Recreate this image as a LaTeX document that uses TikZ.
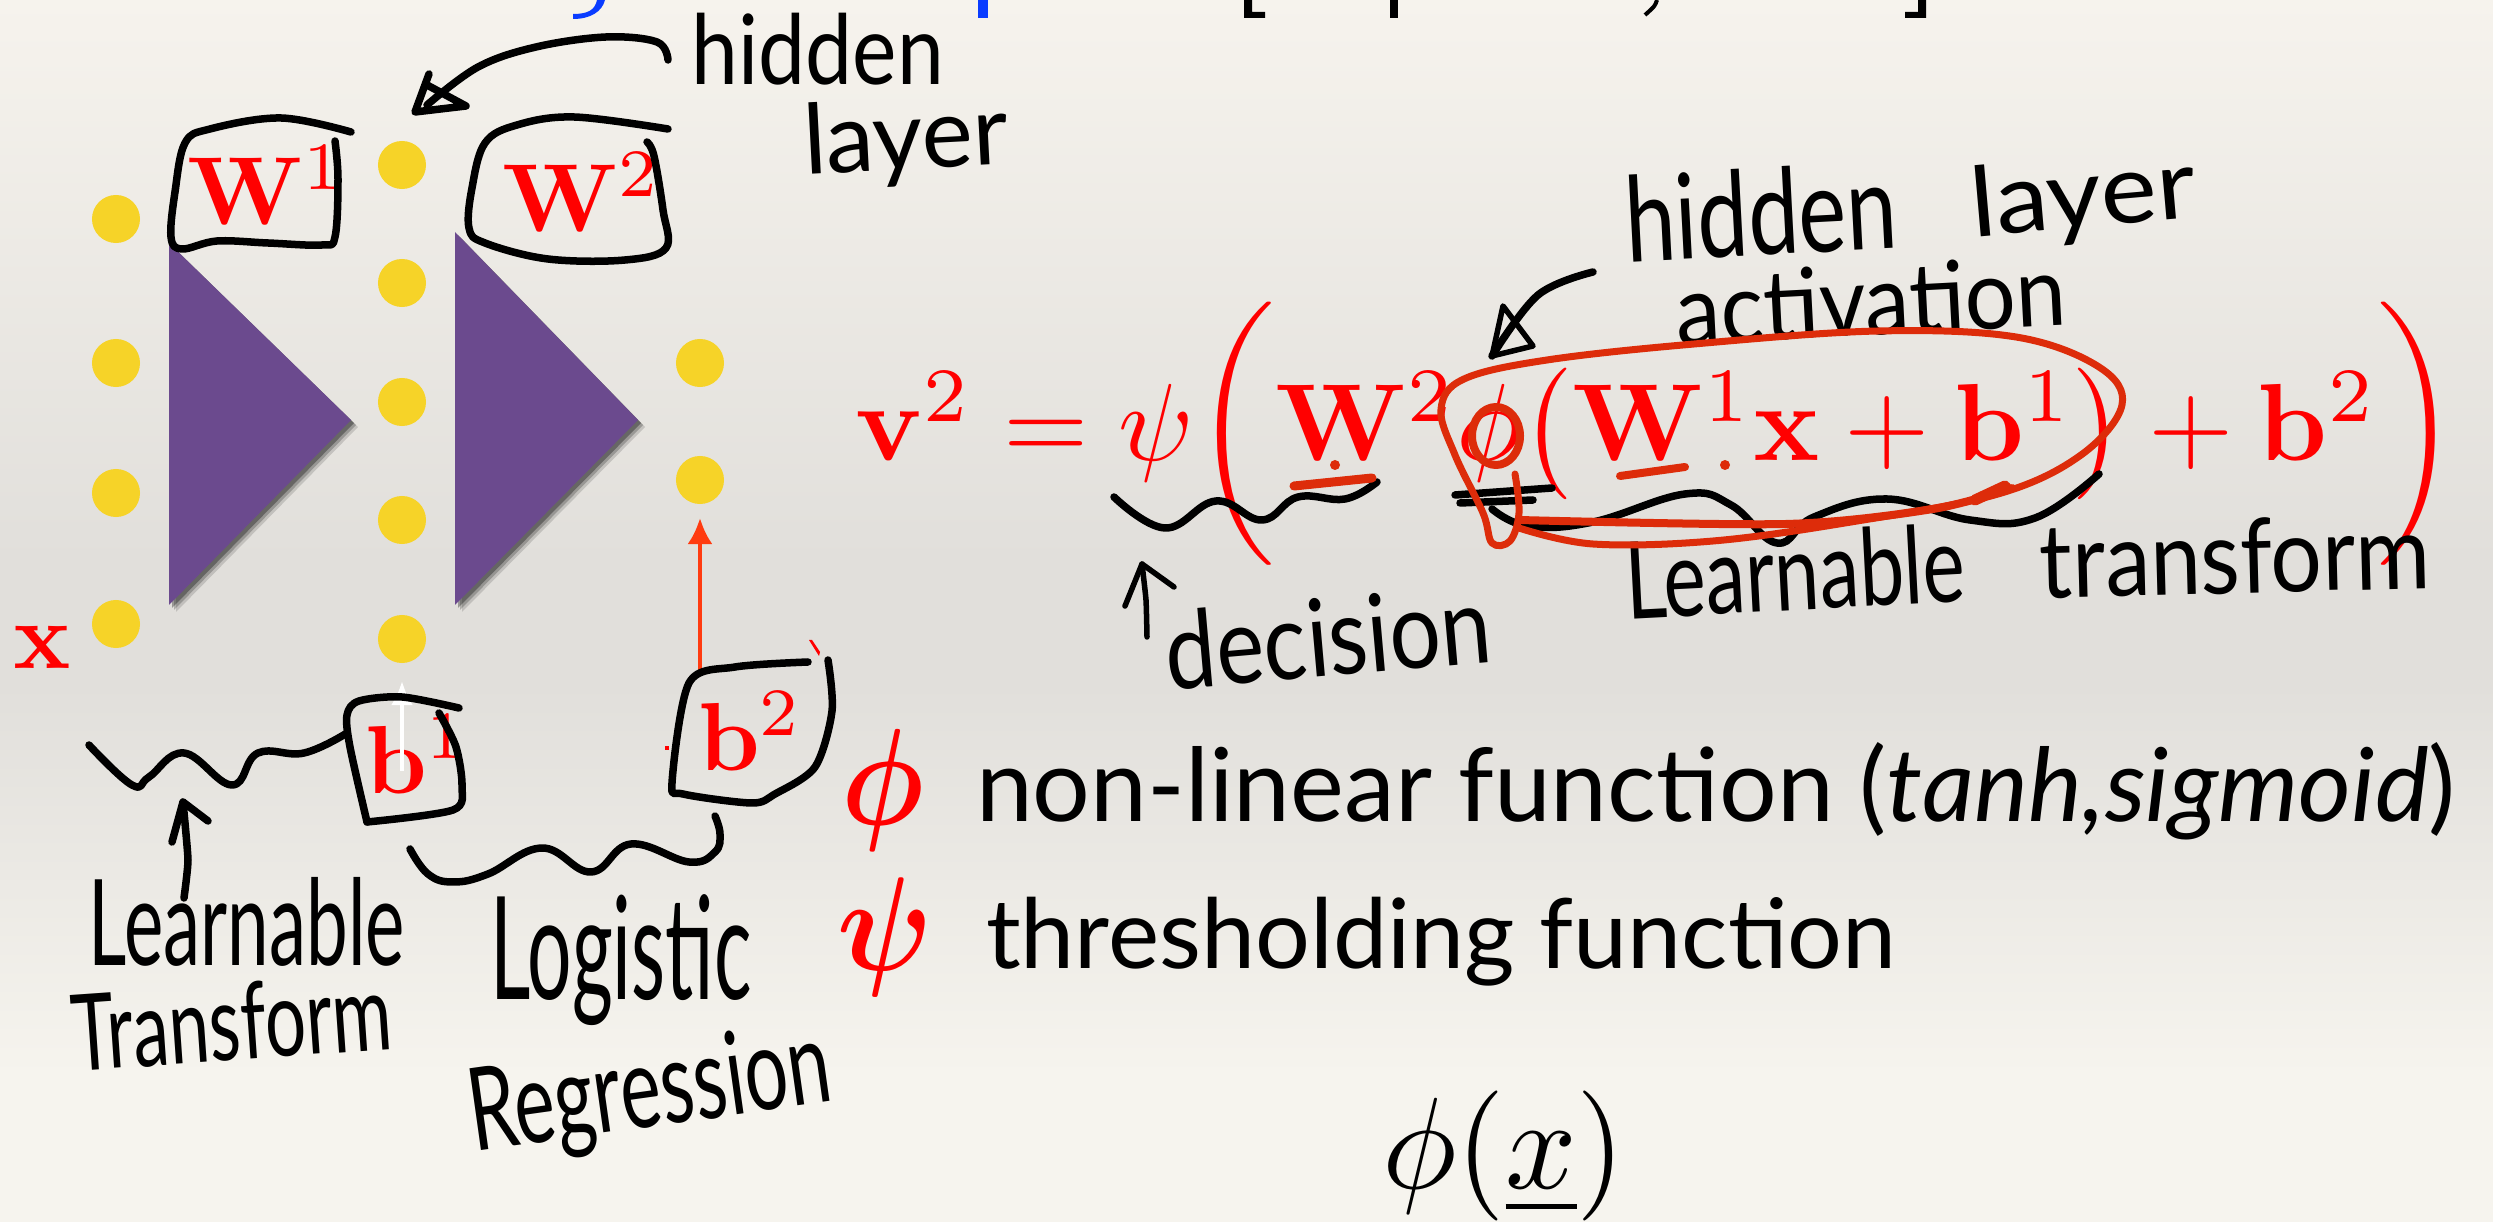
\documentclass[tikz,border=0pt]{standalone}
\usepackage[no-math]{fontspec}
\usepackage{amsmath,amsbsy,graphicx}
\usetikzlibrary{arrows.meta}
\setmainfont{Lato}
\newfontfamily\handfont{Lato}
\definecolor{dotc}{HTML}{F6D328}
\definecolor{tri}{HTML}{6B4A8E}
\definecolor{eqred}{HTML}{FF0000}
\definecolor{inkred}{HTML}{DD2C0A}
\definecolor{arrred}{HTML}{FF3B10}
\definecolor{tblue}{HTML}{0A3CFF}
\definecolor{papertop}{HTML}{F6F3ED}
\definecolor{papermid}{HTML}{E1DFDB}
\definecolor{paperbot}{HTML}{F6F4EE}
\pgfdeclareverticalshading{paper}{100bp}{
 color(0bp)=(paperbot); color(31bp)=(paperbot); color(47bp)=(papermid); color(52bp)=(papermid); color(75bp)=(papertop); color(100bp)=(papertop)}
\tikzset{
 dotn/.style={circle,fill=dotc,inner sep=0pt,minimum size=0.48cm},
 txt/.style={inner sep=0pt,outer sep=0pt},
 ink/.style={draw=black,line width=0.075cm,line cap=round,line join=round},
 rink/.style={draw=inkred,line width=0.07cm,line cap=round,line join=round},
 hand/.style={inner sep=0pt,outer sep=0pt,text=black},
 redm/.style={inner sep=0pt,outer sep=0pt,text=eqred,anchor=base west},
}
\begin{document}
\begin{tikzpicture}[x=0.01cm,y=-0.01cm]
\useasboundingbox (0,0) rectangle (2493,1222);
\shade[shading=paper] (0,0) rectangle (2493,1222);

% top fragments
\fill[tblue] (597,0) .. controls (595,10) and (588,14) .. (573,14) -- (573,19) .. controls (590,19) and (602,12) .. (605,0) -- cycle;
\fill[tblue] (978,0) rectangle (988,18);
\fill[black] (1244,0) -- (1252,0) -- (1252,12) -- (1265,12) -- (1265,18) -- (1244,18) -- cycle;
\fill[black] (1390,0) rectangle (1398,18);
\draw[black,line width=0.04cm] (1657,0) .. controls (1655,6) .. (1645,15);
\fill[black] (1918,0) -- (1926,0) -- (1926,18) -- (1905,18) -- (1905,12) -- (1918,12) -- cycle;

% triangles
\foreach \o/\a in {7/0.14,5/0.22,3/0.32}{
 \fill[black,opacity=\a,xshift=\o*0.01cm,yshift=-\o*0.01cm] (169,243) -- (351,420) -- (169,605) -- cycle;
 \fill[black,opacity=\a,xshift=\o*0.01cm,yshift=-\o*0.01cm] (455,232) -- (638,420) -- (455,605) -- cycle;
}
\fill[tri] (169,243) -- (351,420) -- (169,605) -- cycle;
\fill[tri] (455,232) -- (638,420) -- (455,605) -- cycle;

% dots
\node[dotn] (l1) at (116,219) {};
\node[dotn] (l2) at (116,363) {};
\node[dotn] (l3) at (116,493) {};
\node[dotn] (l4) at (116,624) {};
\node[dotn] (m1) at (402,165) {};
\node[dotn] (m2) at (402,283) {};
\node[dotn] (m3) at (402,402) {};
\node[dotn] (m4) at (402,520) {};
\node[dotn] (m5) at (402,639) {};
\node[dotn] (r1) at (700,363) {};
\node[dotn] (r2) at (700,480) {};

% red symbols
\node[redm] (x) at (14,669) {\scalebox{2.7}{$\mathbf{x}$}};
\node[redm] (w1) at (187,225) {\scalebox{2.75}{$\mathbf{W}^1$}};
\node[redm] (w2) at (502,232) {\scalebox{2.75}{$\mathbf{W}^2$}};
\node[redm] (b1) at (365,794) {\scalebox{2.75}{$\mathbf{b}^1$}};
\node[redm] (b2) at (698,771) {\scalebox{2.75}{$\mathbf{b}^2$}};

% arrows
\coordinate (ra) at (700,672);
\coordinate (rb) at (700,518);
\draw[arrred,line width=0.045cm,-{Latex[length=0.26cm,width=0.25cm]}] (ra) -- (rb);
\coordinate (wa) at (402,771);
\coordinate (wb) at (402,681);
\draw[white,line width=0.045cm,-{Latex[length=0.24cm,width=0.22cm]}] (wa) -- (wb);

% equation
\node[redm] (eq) at (855,461) {\scalebox{3.12}{$\mathbf{v}^2=\psi\biggl(\mathbf{W}^2\phi\bigl(\mathbf{W}^1\mathbf{x}+\mathbf{b}^1\bigr)+\mathbf{b}^2\biggr)$}};

% legend
\node[txt,text=eqred] (phil) at (883,790) {\scalebox{3.3}[3.9]{$\boldsymbol{\phi}$}};
\node[txt,text=eqred] (psil) at (885,937) {\scalebox{3.4}[3.8]{$\boldsymbol{\psi}$}};
\node[txt,anchor=base west] (lt1) at (976,822) {\resizebox{14.79cm}{!}{non-linear function (\textit{tanh,sigmoid})}};
\node[txt,anchor=base west] (lt2) at (986,969) {\resizebox{9.10cm}{!}{thresholding function}};

% handwriting text
\node[hand] (h1) at (818,49) {\resizebox*{2.52cm}{0.72cm}{\handfont hidden}};
\node[hand,rotate=3] (h2) at (906,142) {\resizebox*{2.05cm}{0.88cm}{\handfont layer}};
\node[hand,rotate=3] (h3) at (1761,212) {\resizebox*{2.72cm}{0.88cm}{\handfont hidden}};
\node[hand,rotate=5] (h4) at (2083,200) {\resizebox*{2.25cm}{0.88cm}{\handfont layer}};
\node[hand,rotate=3] (h5) at (1871,300) {\resizebox*{3.9cm}{0.72cm}{\handfont activation}};
\node[hand,rotate=5] (h6) at (1328,637) {\resizebox*{3.27cm}{0.8cm}{\handfont decision}};
\node[hand,rotate=3] (h7) at (1795,571) {\resizebox*{3.4cm}{0.8cm}{\handfont Learnable}};
\node[hand,rotate=1.5] (h8) at (2235,556) {\resizebox*{3.9cm}{0.76cm}{\handfont transform}};
\node[hand] (h9) at (247,922) {\resizebox*{3.16cm}{0.89cm}{\handfont Learnable}};
\node[hand,rotate=4] (h10) at (232,1022) {\resizebox*{3.2cm}{0.78cm}{\handfont Transform}};
\node[hand] (h11) at (621,960) {\resizebox*{2.61cm}{1.31cm}{\handfont Logistic}};
\node[hand,rotate=8] (h12) at (650,1095) {\resizebox*{3.64cm}{1.05cm}{\handfont Regression}};
\node[hand] (h13) at (1504,1156) {\resizebox*{2.43cm}{1.3cm}{$\phi(\underline{x})$}};

% hand strokes: boxes
\draw[ink] plot[smooth,tension=0.6] coordinates {(351,132) (281,118) (210,129) (185,143) (175,192) (171,237) (182,249) (217,241) (268,243) (322,245) (335,237) (338,179) (335,141)};
\draw[ink] plot[smooth,tension=0.6] coordinates {(668,129) (574,117) (517,125) (485,143) (472,188) (469,228) (485,243) (548,259) (625,260) (666,248) (663,210) (654,156) (647,142)};
\draw[ink] plot[smooth,tension=0.5] coordinates {(459,708) (402,697) (359,701) (347,715) (350,747) (367,822)};
\draw[ink] plot[smooth,tension=0.5] coordinates {(367,822) (453,810) (462,786) (456,747) (439,713)};
\draw[ink] plot[smooth,tension=0.5] coordinates {(808,662) (735,667) (689,683) (672,783) (683,794) (752,803) (775,794) (815,767) (832,711) (828,660)};
\fill[eqred] (809,640) -- (812,640) -- (820,652) -- (819,656) -- cycle;
\fill[eqred] (665,746) rectangle (669,750);

% hidden-layer arrow
\draw[ink] plot[smooth,tension=0.6] coordinates {(668,60) (657,42) (606,37) (536,47) (478,67) (427,105)};
\draw[ink] (429,74) -- (415,112) -- (466,106) -- (427,85);

% wiggles
\draw[ink] plot[smooth,tension=0.7] coordinates {(89,745) (132,785) (149,777) (184,753) (232,785) (258,753) (304,753) (347,733)};
\draw[ink] plot[smooth,tension=0.3] coordinates {(184,898) (188,860) (183,802)};
\draw[ink] (172,842) -- (183,802) -- (208,821);
\draw[ink] plot[smooth,tension=0.7] coordinates {(410,849) (428,874) (453,882) (488,874) (542,848) (591,872) (631,844) (689,862) (715,852) (720,834) (715,816)};

% equation annotations
\draw[ink] plot[smooth,tension=0.6] coordinates {(1593,272) (1538,295) (1492,356)};
\draw[ink,line width=0.055cm] (1503,306) -- (1492,356) -- (1533,346) -- cycle;
\draw[ink,line width=0.055cm] plot[smooth,tension=0.3] coordinates {(1147,637) (1146,600) (1142,564)};
\draw[ink,line width=0.055cm] (1125,606) -- (1142,564) -- (1174,587);
\draw[ink] plot[smooth,tension=0.7] coordinates {(1114,497) (1165,528) (1216,501) (1262,520) (1298,497) (1345,499) (1377,482)};
\draw[ink] (1455,495) -- (1552,488);
\draw[ink] (1460,503) -- (1533,500);
\draw[ink] plot[smooth,tension=0.7] coordinates {(1492,509) (1528,526) (1593,522) (1685,494) (1731,505) (1777,543) (1814,517) (1887,499) (1970,520) (2035,518) (2099,474)};

% red hand strokes
\draw[rink] plot[smooth,tension=0.6] coordinates {(1519,528) (1593,544) (1713,541) (1851,522) (1998,494) (2081,455) (2122,405) (2099,367) (2016,337) (1878,331) (1694,344) (1547,360) (1464,379) (1441,409) (1455,455) (1483,513) (1492,543) (1510,541) (1519,513) (1515,474)};
\draw[rink,line width=0.08cm] plot[smooth,tension=0.5] coordinates {(1519,520) (1786,524) (1933,509) (2012,488)};
\draw[rink,line width=0.11cm] (1975,500) -- (2005,486);
\draw[rink,line width=0.08cm] (1496,436) ellipse [x radius=24,y radius=29];
\draw[rink,line width=0.09cm] (1294,486) -- (1372,478);
\fill[inkred] (1335,465) circle [radius=5];
\draw[rink,line width=0.08cm] (1620,476) -- (1685,467);
\fill[inkred] (1725,465) circle [radius=5];
\end{tikzpicture}
\end{document}
